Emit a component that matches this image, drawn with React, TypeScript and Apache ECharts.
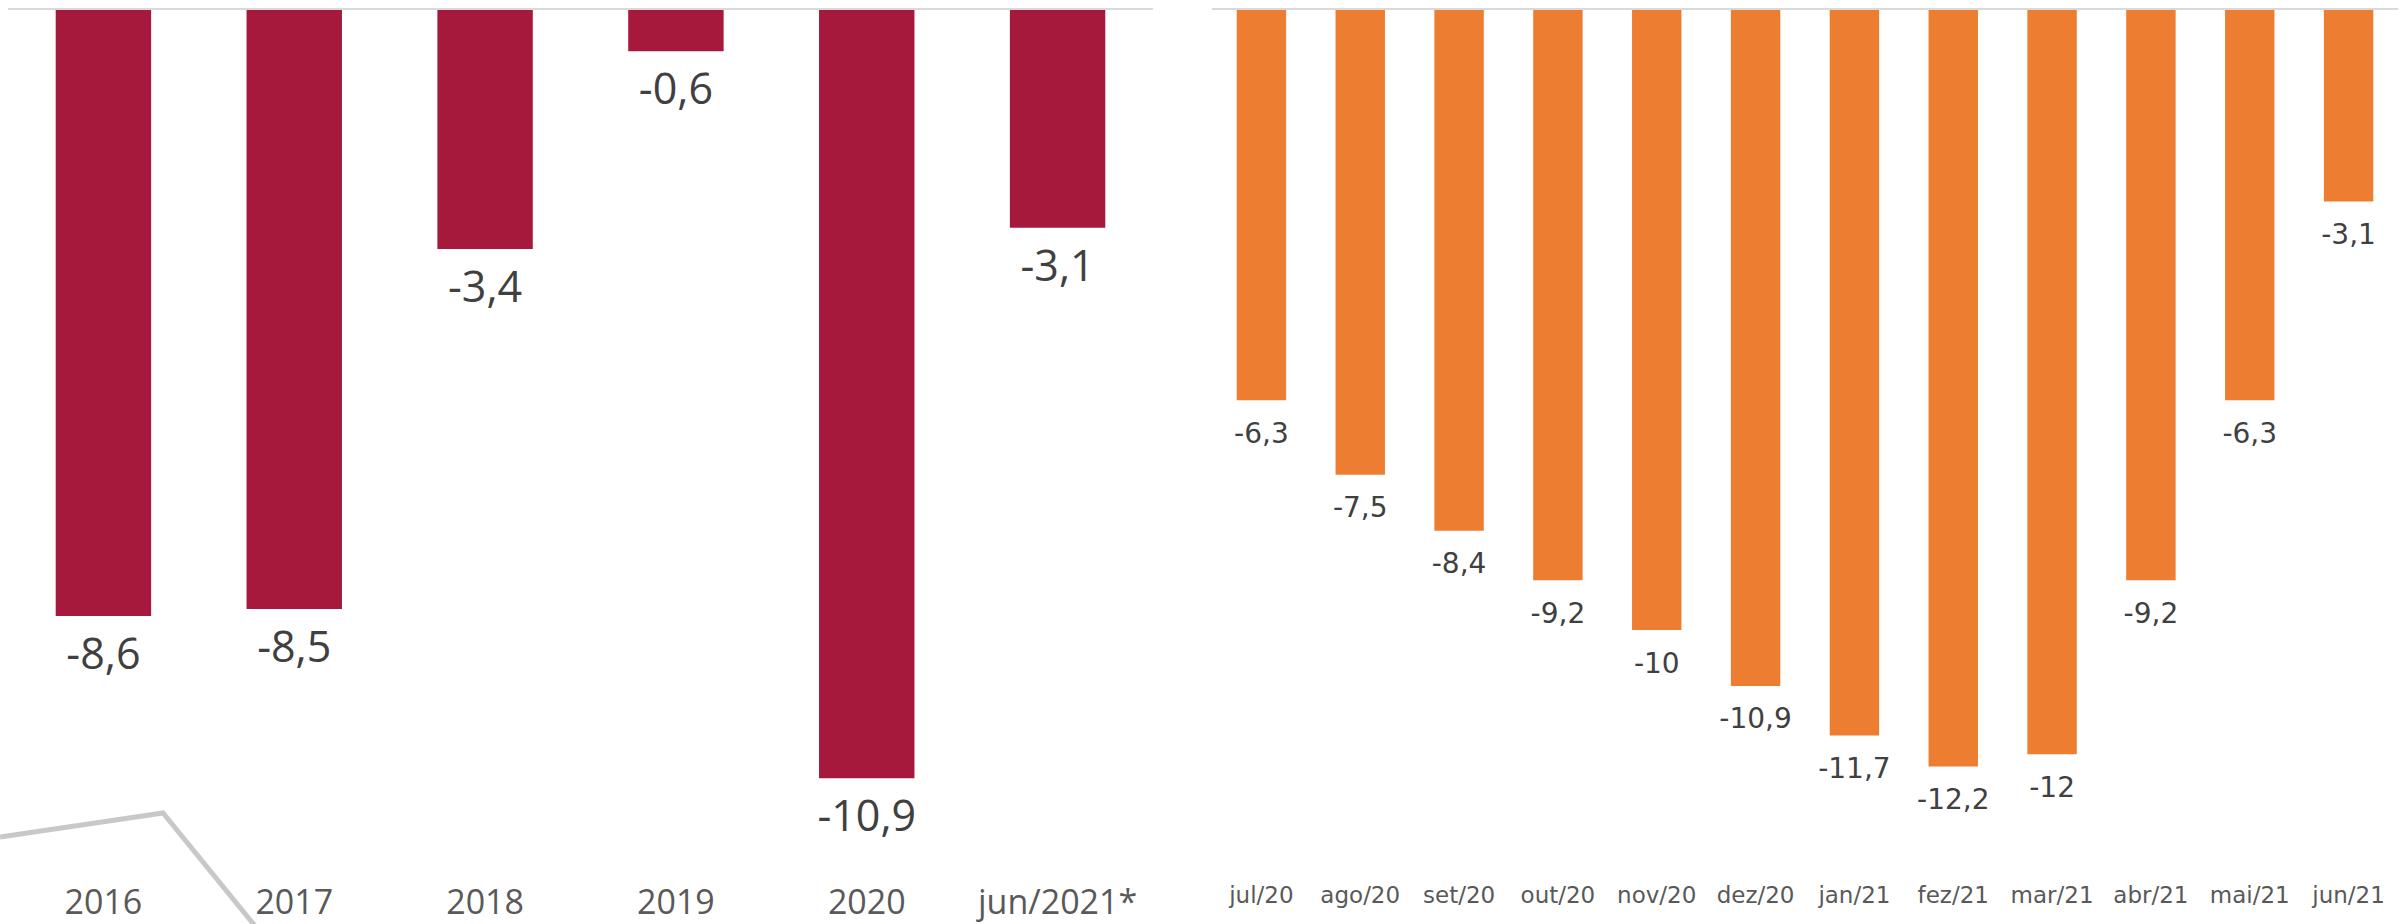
import React, { useEffect, useRef } from "react";
import * as echarts from "echarts";

const annualCategories = ["2016", "2017", "2018", "2019", "2020", "jun/2021*"];
const annualValues = [-8.6, -8.5, -3.4, -0.6, -10.9, -3.1];

const monthlyCategories = [
  "jul/20", "ago/20", "set/20", "out/20", "nov/20", "dez/20",
  "jan/21", "fez/21", "mar/21", "abr/21", "mai/21", "jun/21",
];
const monthlyValues = [-6.3, -7.5, -8.4, -9.2, -10, -10.9, -11.7, -12.2, -12, -9.2, -6.3, -3.1];

const fmt = (p: any) => String(p.value).replace(".", ",");

export default function App() {
  const ref = useRef<HTMLDivElement>(null);
  useEffect(() => {
    if (!ref.current) return;
    const chart = echarts.init(ref.current, undefined, { renderer: "svg" });
    const zeroLine = {
      silent: true,
      symbol: "none",
      label: { show: false },
      lineStyle: { color: "#d9d9d9", width: 2, type: "solid" },
      data: [{ yAxis: 0 }],
    };
    chart.setOption({
      animation: false,
      backgroundColor: "#ffffff",
      grid: [
        { left: 8, top: 9, width: 1145, height: 847 },
        { left: 1212, top: 9, width: 1186, height: 869.4 },
      ],
      xAxis: [
        {
          type: "category",
          gridIndex: 0,
          data: annualCategories,
          axisLine: { show: false, onZero: false },
          axisTick: { show: false },
          axisLabel: {
            color: "#595959",
            fontSize: 34,
            fontFamily: "Open Sans",
            margin: 28,
            interval: 0,
          },
        },
        {
          type: "category",
          gridIndex: 1,
          data: monthlyCategories,
          axisLine: { show: false, onZero: false },
          axisTick: { show: false },
          axisLabel: {
            color: "#595959",
            fontSize: 23,
            fontFamily: "DejaVu Sans",
            margin: 5,
            interval: 0,
          },
        },
      ],
      yAxis: [
        { type: "value", gridIndex: 0, min: -12, max: 0, show: false },
        { type: "value", gridIndex: 1, min: -14, max: 0, show: false },
      ],
      series: [
        {
          type: "bar",
          xAxisIndex: 0,
          yAxisIndex: 0,
          data: annualValues,
          barWidth: "50%",
          itemStyle: { color: "#a6193c" },
          label: {
            show: true,
            position: "bottom",
            distance: 15,
            formatter: fmt,
            color: "#404040",
            fontSize: 43,
            fontFamily: "Open Sans",
          },
          markLine: zeroLine,
        },
        {
          type: "bar",
          xAxisIndex: 1,
          yAxisIndex: 1,
          data: monthlyValues,
          barWidth: "50%",
          itemStyle: { color: "#ed7d31" },
          label: {
            show: true,
            position: "bottom",
            distance: 19,
            formatter: fmt,
            color: "#404040",
            fontSize: 28,
            fontFamily: "DejaVu Sans",
          },
          markLine: zeroLine,
        },
      ],
      graphic: [
        {
          type: "polyline",
          silent: true,
          shape: { points: [[0, 837], [163, 813], [260, 932]] },
          style: { stroke: "#c8c8c6", lineWidth: 5, fill: "none" },
        },
      ],
    });
    return () => chart.dispose();
  }, []);
  return (
    <div
      ref={ref}
      style={{ position: "absolute", left: 0, top: 0, width: 2408, height: 924 }}
    />
  );
}
